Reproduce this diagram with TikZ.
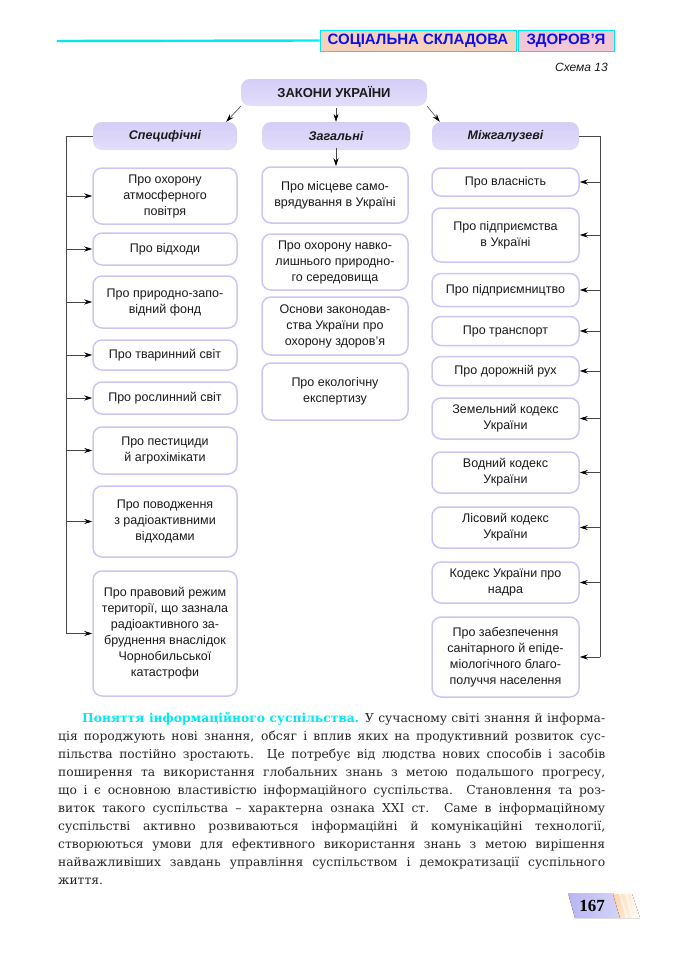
\documentclass[tikz,border=0pt]{standalone}
\usepackage{fontspec}
\setmainfont{Liberation Sans}
\newfontfamily\bodyserif{DejaVu Serif}
\newfontfamily\numserif{Liberation Serif}
\usetikzlibrary{arrows.meta}
\definecolor{lavb}{HTML}{CCC6F4}
\definecolor{lavtop}{HTML}{D4CEF7}
\definecolor{lavbot}{HTML}{E2DEFA}
\definecolor{txt}{HTML}{1A1A1A}
\definecolor{linec}{HTML}{474747}
\definecolor{headcyan}{HTML}{00E8F2}
\definecolor{headblue}{HTML}{1010E6}
\definecolor{headA}{HTML}{F6D2BC}
\definecolor{headB}{HTML}{F3C8D6}
\definecolor{bodytxt}{HTML}{262626}
\definecolor{pglav}{HTML}{B8B6F2}
\tikzset{
  box/.style={draw=lavb, line width=1.5pt, rounded corners=9pt, fill=white,
    align=center, text=txt, inner sep=2pt,
    font=\fontsize{12.5}{16}\selectfont},
  cat/.style={rounded corners=9pt, top color=lavtop, bottom color=lavbot,
    draw=none, text=txt, inner sep=2pt, minimum height=28pt,
    font=\fontsize{12.5}{15}\selectfont\bfseries\itshape},
  conn/.style={draw=linec, line width=0.6pt},
  arr/.style={conn, -{Stealth[length=8pt,width=5pt,color=black,fill=black]}},
  headbox/.style={draw=headcyan, line width=0.8pt, text=headblue,
    inner sep=0pt, minimum height=21pt,
    font=\fontsize{15}{15}\selectfont\bfseries},
  bodyline/.style={anchor=base west, inner sep=0pt, text=bodytxt,
    font=\bodyserif\fontsize{12.3}{18}\selectfont}
}
\begin{document}
\begin{tikzpicture}[x=1pt,y=-1pt]
\useasboundingbox (0,0) rectangle (690,974);
% header
\node[headbox, fill=headA, minimum width=196pt] (h1) at (418,40.5) {СОЦІАЛЬНА СКЛАДОВА};
\node[headbox, fill=headB, minimum width=96pt] (h2) at (566,40.5) {ЗДОРОВ’Я};
\coordinate (hl) at (57,41);
\draw[headcyan, line width=2.4pt] (hl) -- (h1.west);
\node[anchor=east, text=txt, inner sep=0pt, font=\fontsize{12}{12}\selectfont\itshape] (schema) at (608,67) {Схема 13};
% top
\node[cat, minimum width=186pt, minimum height=27pt, font=\fontsize{13}{15}\selectfont\bfseries] (Z) at (334,92.5) {ЗАКОНИ УКРАЇНИ};
\node[cat, minimum width=144pt] (S) at (165,136) {Специфічні};
\node[cat, minimum width=148pt] (G) at (336,136) {Загальні};
\node[cat, minimum width=147pt] (X) at (505.5,136) {Міжгалузеві};
\draw[arr] (Z.south west) -- ([xshift=-11pt]S.north east);
\draw[arr] ([yshift=-2pt]Z.south -| G.north) -- (G.north);
\draw[arr] (Z.south east) -- ([xshift=8pt]X.north west);
% left column
\node[box, minimum width=144pt, minimum height=56pt] (L1) at (165,196) {Про охорону\\атмосферного\\повітря};
\node[box, minimum width=144pt, minimum height=32pt] (L2) at (165,249) {Про відходи};
\node[box, minimum width=144pt, minimum height=52pt] (L3) at (165,302) {Про природно-запо-\\відний фонд};
\node[box, minimum width=144pt, minimum height=30pt] (L4) at (165,355) {Про тваринний світ};
\node[box, minimum width=144pt, minimum height=32pt] (L5) at (165,398) {Про рослинний світ};
\node[box, minimum width=144pt, minimum height=47pt] (L6) at (165,450.5) {Про пестициди\\й агрохімікати};
\node[box, minimum width=144pt, minimum height=71pt] (L7) at (165,521.5) {Про поводження\\з радіоактивними\\відходами};
\node[box, minimum width=144pt, minimum height=125pt] (L8) at (165,633.5) {Про правовий режим\\території, що зазнала\\радіоактивного за-\\бруднення внаслідок\\Чорнобильської\\катастрофи};
% middle column
\node[box, minimum width=146pt, minimum height=56pt] (M1) at (335,195) {Про місцеве само-\\врядування в Україні};
\node[box, minimum width=146pt, minimum height=56pt] (M2) at (335,262) {Про охорону навко-\\лишнього природно-\\го середовища};
\node[box, minimum width=146pt, minimum height=58pt] (M3) at (335,326) {Основи законодав-\\ства України про\\охорону здоров’я};
\node[box, minimum width=146pt, minimum height=57pt] (M4) at (335,391.5) {Про екологічну\\експертизу};
\draw[arr] ([yshift=2pt]G.south) -- (G.south |- M1.north);
% right column
\node[box, minimum width=147pt, minimum height=28pt] (R1) at (505.5,182) {Про власність};
\node[box, minimum width=147pt, minimum height=54pt] (R2) at (505.5,235) {Про підприємства\\в Україні};
\node[box, minimum width=147pt, minimum height=33pt] (R3) at (505.5,290) {Про підприємництво};
\node[box, minimum width=147pt, minimum height=29pt] (R4) at (505.5,331) {Про транспорт};
\node[box, minimum width=147pt, minimum height=29pt] (R5) at (505.5,371) {Про дорожній рух};
\node[box, minimum width=147pt, minimum height=41pt] (R6) at (505.5,418.5) {Земельний кодекс\\України};
\node[box, minimum width=147pt, minimum height=41pt] (R7) at (505.5,472.5) {Водний кодекс\\України};
\node[box, minimum width=147pt, minimum height=41pt] (R8) at (505.5,527.5) {Лісовий кодекс\\України};
\node[box, minimum width=147pt, minimum height=41pt] (R9) at (505.5,582.5) {Кодекс України про\\надра};
\node[box, minimum width=147pt, minimum height=80pt] (R10) at (505.5,657) {Про забезпечення\\санітарного й епіде-\\міологічного благо-\\получчя населення};
% brackets
\coordinate (lb) at (66,136);
\coordinate (rb) at (600,136);
\draw[conn] (S.west) -- (lb) -- (lb |- L8.west);
\draw[conn] (X.east) -- (rb) -- (rb |- R10.east);
\foreach \n in {L1,L2,L3,L4,L5,L6,L7,L8}
  \draw[arr] (lb |- \n.west) -- (\n.west);
\foreach \n in {R1,R2,R3,R4,R5,R6,R7,R8,R9,R10}
  \draw[arr] (rb |- \n.east) -- (\n.east);
% body text
\node[bodyline] (t1) at (82,722) {\makebox[523pt][s]{\textcolor{headcyan}{\bfseries Поняття інформаційного суспільства.} У сучасному світі знання й інформа-}};
\node[bodyline] (t2) at (58,740) {\makebox[547pt][s]{ція породжують нові знання, обсяг і вплив яких на продуктивний розвиток сус-}};
\node[bodyline] (t3) at (58,758) {\makebox[547pt][s]{пільства постійно зростають. Це потребує від людства нових способів і засобів}};
\node[bodyline] (t4) at (58,776) {\makebox[547pt][s]{поширення та використання глобальних знань з метою подальшого прогресу,}};
\node[bodyline] (t5) at (58,794) {\makebox[547pt][s]{що і є основною властивістю інформаційного суспільства. Становлення та роз-}};
\node[bodyline] (t6) at (58,812) {\makebox[547pt][s]{виток такого суспільства – характерна ознака XXI ст. Саме в інформаційному}};
\node[bodyline] (t7) at (58,830) {\makebox[547pt][s]{суспільстві активно розвиваються інформаційні й комунікаційні технології,}};
\node[bodyline] (t8) at (58,848) {\makebox[547pt][s]{створюються умови для ефективного використання знань з метою вирішення}};
\node[bodyline] (t9) at (58,866) {\makebox[547pt][s]{найважливіших завдань управління суспільством і демократизації суспільного}};
\node[bodyline] (t10) at (58,884) {життя.};
% page number
\fill[left color=pglav, right color=pglav!60] (568,893) -- (613,893) -- (620,918) -- (575,918) -- cycle;
\fill[left color=orange!35, right color=white] (613,894) -- (632,894) -- (640,918) -- (620,918) -- cycle;
\fill[white, opacity=0.6] (619,894) -- (621,894) -- (628,918) -- (626,918) -- cycle;
\fill[white, opacity=0.6] (625,894) -- (627,894) -- (634,918) -- (632,918) -- cycle;
\node[inner sep=0pt, font=\numserif\fontsize{17}{17}\selectfont\bfseries, text=black] (pg) at (592,906) {167};
\end{tikzpicture}
\end{document}
